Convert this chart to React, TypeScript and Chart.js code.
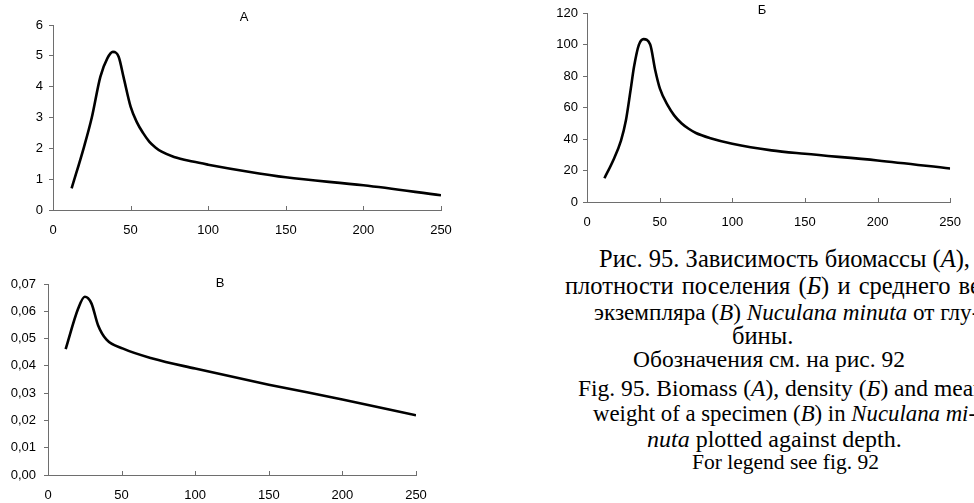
import React, { useEffect, useRef } from "react";
import { Chart, registerables } from "chart.js";

Chart.register(...registerables);

// Chart А — biomass vs depth
const depthA = [12, 20, 25, 30.5, 35, 38.6, 42.3, 45.5, 50, 54, 58, 62, 66, 70, 78, 90, 100, 125, 150, 200, 250];
const biomassA = [0.7, 2.05, 3.0, 4.32, 4.92, 5.13, 4.97, 4.3, 3.35, 2.85, 2.5, 2.22, 2.03, 1.89, 1.72, 1.57, 1.47, 1.25, 1.06, 0.8, 0.48];

// Chart Б — density vs depth
const depthB = [12, 18, 23.4, 26.8, 30, 32.4, 35.7, 39, 43.5, 46.9, 50.2, 55.8, 60, 65, 70, 75, 85, 100, 127, 150, 200, 250];
const densityB = [15.1, 26.4, 39, 51.9, 71, 86, 99.8, 103.4, 100, 84, 72, 61, 55, 50, 46.5, 43.8, 40.5, 37, 32.8, 30.6, 26.4, 21.3];

// Chart В — mean weight of a specimen vs depth
const depthC = [12, 20.5, 25, 29.5, 34, 39.6, 51, 71, 100, 150, 200, 250];
const weightC = [0.0461, 0.061, 0.0653, 0.0629, 0.0549, 0.0497, 0.0463, 0.0427, 0.039, 0.0331, 0.0277, 0.0219];

const xTicks = [0, 50, 100, 150, 200, 250];

type Spec = {
  xs: number[];
  ys: number[];
  yMax: number;
  yStep: number;
  yFmt: (v: number) => string;
  yWidth: number;
  padTop: number;
  padRight: number;
  xHeight: number;
  yPad: number;
};

const inwardTicks = {
  id: "inwardTicks",
  afterDraw(chart: any) {
    const x = chart.scales.x;
    const ctx = chart.ctx;
    const bottom = chart.chartArea.bottom;
    ctx.save();
    ctx.strokeStyle = "#6e6e6e";
    ctx.lineWidth = 1;
    for (const v of xTicks) {
      if (v === 0) continue;
      const px = Math.round(x.getPixelForValue(v)) + 0.5;
      ctx.beginPath();
      ctx.moveTo(px, bottom);
      ctx.lineTo(px, bottom - 4);
      ctx.stroke();
    }
    ctx.restore();
  },
};

function LineChart({ spec, w, h }: { spec: Spec; w: number; h: number }) {
  const ref = useRef<HTMLCanvasElement>(null);
  useEffect(() => {
    const data = spec.xs.map((x, i) => ({ x, y: spec.ys[i] }));
    const chart = new Chart(ref.current!, {
      type: "line",
      data: {
        datasets: [
          {
            data,
            borderColor: "#000",
            borderWidth: 2.6,
            pointRadius: 0,
            cubicInterpolationMode: "monotone",
            fill: false,
          },
        ],
      },
      options: {
        responsive: false,
        animation: false,
        events: [],
        layout: { padding: { top: spec.padTop, right: spec.padRight, left: 0, bottom: 0 } },
        plugins: { legend: { display: false }, tooltip: { enabled: false }, title: { display: false } },
        scales: {
          x: {
            type: "linear",
            min: 0,
            max: 250,
            afterFit: (s: any) => {
              s.height = spec.xHeight;
            },
            afterBuildTicks: (s: any) => {
              s.ticks = xTicks.map((v) => ({ value: v }));
            },
            grid: { display: false, drawTicks: false },
            border: { display: true, color: "#6e6e6e", width: 1 },
            ticks: {
              color: "#000",
              font: { family: "Liberation Sans, Arial, sans-serif", size: 13 },
              padding: 13,
              maxRotation: 0,
              autoSkip: false,
            },
          },
          y: {
            type: "linear",
            min: 0,
            max: spec.yMax,
            afterFit: (s: any) => {
              s.width = spec.yWidth;
            },
            grid: { drawOnChartArea: false, drawTicks: true, tickLength: 4, color: "#6e6e6e" },
            border: { display: true, color: "#6e6e6e", width: 1 },
            ticks: {
              stepSize: spec.yStep,
              color: "#000",
              font: { family: "Liberation Sans, Arial, sans-serif", size: 13 },
              padding: spec.yPad,
              callback: (v: any) => spec.yFmt(Number(v)),
            },
          },
        },
      },
      plugins: [inwardTicks],
    } as any);
    return () => chart.destroy();
  }, []);
  return <canvas ref={ref} width={w} height={h} style={{ display: "block", width: w, height: h }} />;
}

const specA: Spec = {
  xs: depthA,
  ys: biomassA,
  yMax: 6,
  yStep: 1,
  yFmt: (v) => String(Math.round(v)),
  yWidth: 53,
  padTop: 25,
  padRight: 29,
  xHeight: 35,
  yPad: 6,
};
const specB: Spec = {
  xs: depthB,
  ys: densityB,
  yMax: 120,
  yStep: 20,
  yFmt: (v) => String(Math.round(v)),
  yWidth: 77,
  padTop: 13,
  padRight: 14,
  xHeight: 38,
  yPad: 5,
};
const specC: Spec = {
  xs: depthC,
  ys: weightC,
  yMax: 0.07,
  yStep: 0.01,
  yFmt: (v) => v.toFixed(2).replace(".", ","),
  yWidth: 48,
  padTop: 39,
  padRight: 44,
  xHeight: 28,
  yPad: 8,
};

const titleStyle = (x: number, y: number): React.CSSProperties => ({
  position: "absolute",
  left: x - 20,
  top: y - 8,
  width: 40,
  textAlign: "center",
  font: "13px 'Liberation Sans', Arial, sans-serif",
  lineHeight: "16px",
  color: "#000",
});

const serif = "'Liberation Serif', 'Times New Roman', serif";

const lineStyle = (left: number, cy: number, size: number, ws = 0): React.CSSProperties => ({
  position: "absolute",
  left,
  top: cy - 15,
  height: 30,
  lineHeight: "30px",
  whiteSpace: "nowrap",
  fontFamily: serif,
  fontSize: size,
  wordSpacing: ws,
  color: "#000",
});

export default function App() {
  return (
    <div
      style={{
        position: "absolute",
        left: 0,
        top: 0,
        width: 974,
        height: 503,
        overflow: "hidden",
        background: "#fff",
      }}
    >
      <div style={{ position: "absolute", left: 0, top: 0 }}>
        <LineChart spec={specA} w={470} h={245} />
      </div>
      <div style={{ position: "absolute", left: 510, top: 0 }}>
        <LineChart spec={specB} w={464} h={240} />
      </div>
      <div style={{ position: "absolute", left: 0, top: 245 }}>
        <LineChart spec={specC} w={460} h={258} />
      </div>
      <div style={titleStyle(244, 17)}>А</div>
      <div style={titleStyle(762, 10)}>Б</div>
      <div style={titleStyle(220, 283)}>В</div>

      <div style={lineStyle(599, 259, 24.5)}>
        Рис. 95. Зависимость биомассы (<i>А</i>),
      </div>
      <div style={lineStyle(565, 286, 24.5, 2)}>
        плотности поселения (<i>Б</i>) и среднего веса
      </div>
      <div style={lineStyle(594, 312, 23.2)}>
        экземпляра (<i>В</i>) <i>Nuculana minuta</i> от глу-
      </div>
      <div style={lineStyle(732, 336, 24.5)}>бины.</div>
      <div style={lineStyle(633, 359, 23.5)}>Обозначения см. на рис. 92</div>
      <div style={lineStyle(578, 388, 23.5)}>
        Fig. 95. Biomass (<i>A</i>), density (<i>Б</i>) and mean
      </div>
      <div style={lineStyle(593, 414, 22.8)}>
        weight of a specimen (<i>B</i>) in <i>Nuculana mi-</i>
      </div>
      <div style={lineStyle(647, 439, 24)}>
        <i>nuta</i> plotted against depth.
      </div>
      <div style={lineStyle(692, 462, 21.5)}>For legend see fig. 92</div>
    </div>
  );
}
